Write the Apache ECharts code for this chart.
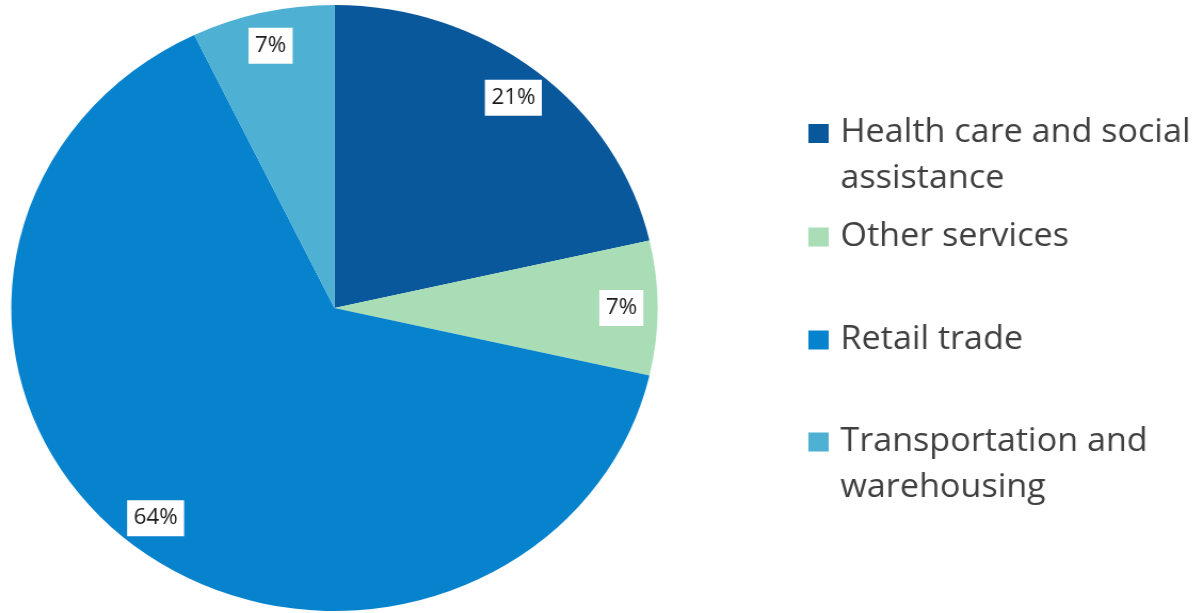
<!DOCTYPE html>
<html>
<head>
<meta charset="utf-8">
<script src="https://cdn.jsdelivr.net/npm/echarts@6/dist/echarts.min.js"></script>
<style>
  html, body { margin: 0; padding: 0; background: #ffffff; overflow: hidden; }
  #chart { width: 1127px; height: 613px; transform: scaleX(1.0665); transform-origin: 0 0; }
</style>
</head>
<body>
<div id="chart"></div>
<script>
const categories = ['Health care and social\nassistance', 'Other services', 'Retail trade', 'Transportation and\nwarehousing'];
const values = [3, 1, 9, 1];
const colors = ['#09589C', '#A8DDB5', '#0783CD', '#4EB0D3'];

const FONT = '"Open Sans", "Noto Sans", sans-serif';
const chart = echarts.init(document.getElementById('chart'), null, { renderer: 'canvas' });

const pieData = categories.map((c, i) => ({ name: c, value: values[i], itemStyle: { color: colors[i] } }));
const labelData = categories.map((c, i) => ({ name: c, value: values[i] }));

// marker centre y (px) for each legend entry
const markerCenters = [133.5, 237, 340, 442];

const legends = categories.map((c, i) => {
  const twoLine = c.indexOf('\n') >= 0;
  return {
    orient: 'vertical',
    left: 758,
    top: twoLine ? markerCenters[i] - 23.5 : markerCenters[i] - 23,
    padding: 0,
    itemWidth: 19,
    itemHeight: twoLine ? 64 : 19,
    icon: twoLine ? 'path://M0,0L19,0L19,19L0,19Z M0,64L0.01,64' : 'rect',
    selectedMode: false,
    data: [{ name: c, itemStyle: { color: colors[i] } }],
    textStyle: { fontSize: 32, color: '#404040', fontFamily: FONT, lineHeight: 46, padding: [0, 0, 0, 6] }
  };
});

chart.setOption({
  animation: false,
  backgroundColor: '#ffffff',
  legend: legends,
  series: [
    {
      type: 'pie',
      center: [313.6, 308],
      radius: [0, 303],
      startAngle: 90,
      clockwise: true,
      silent: true,
      label: { show: false },
      labelLine: { show: false },
      itemStyle: { borderWidth: 0 },
      data: pieData
    },
    {
      type: 'pie',
      center: [313.6, 308],
      radius: [229, 303],
      startAngle: 90,
      clockwise: true,
      silent: true,
      itemStyle: { color: 'rgba(0,0,0,0)', borderWidth: 0 },
      label: {
        show: true,
        position: 'inside',
        formatter: p => Math.round(p.percent) + '%',
        backgroundColor: '#ffffff',
        color: '#1a1a1a',
        fontSize: 21,
        lineHeight: 21,
        fontFamily: FONT,
        padding: [8, 6, 7, 6]
      },
      labelLine: { show: false },
      emphasis: { disabled: true },
      data: labelData
    }
  ]
});
</script>
</body>
</html>
